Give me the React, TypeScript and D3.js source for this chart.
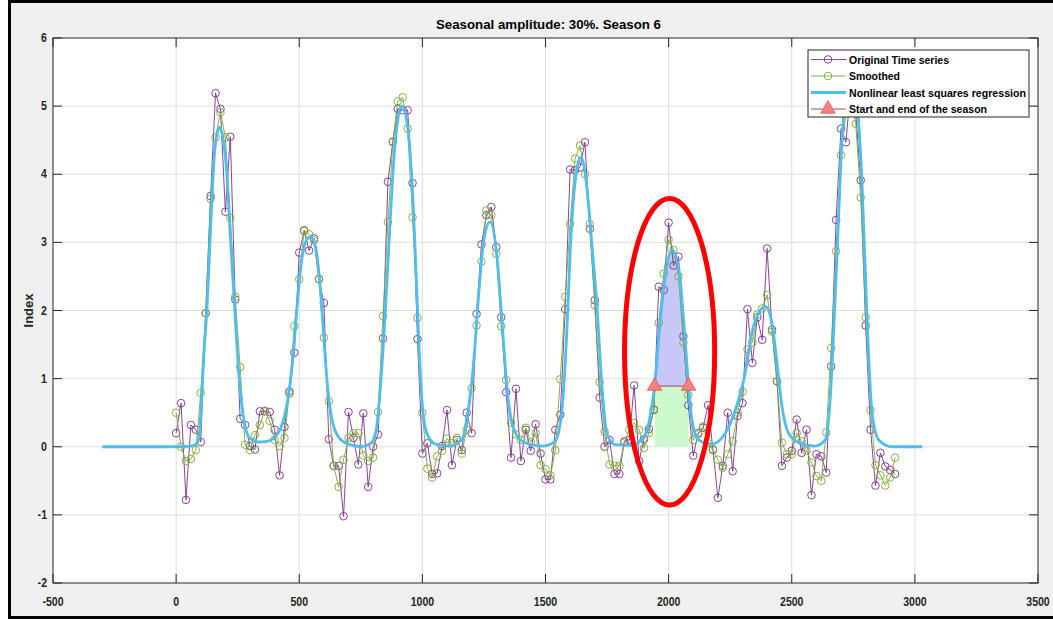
import * as d3 from 'd3';

// 16-day style composites, one every 20 units along the x axis
const STEP = 20;

const ORIGINAL = [
  0.2, 0.64, -0.78, 0.32, 0.25, 0.07, 1.96, 3.68, 5.19, 4.96,
  3.45, 4.55, 2.16, 0.41, 0.32, 0.01, -0.04, 0.52, 0.52, 0.51,
  0.25, -0.42, 0.29, 0.81, 1.38, 2.85, 3.17, 2.88, 3.06, 2.46,
  2.11, 0.11, -0.28, -0.28, -1.02, 0.51, 0.13, -0.26, 0.49, -0.59,
  0.0, 0.18, 1.59, 3.89, 4.48, 4.96, 4.94, 4.94, 3.87, 1.58,
  -0.1, 0.05, -0.4, -0.39, 0.01, 0.54, -0.27, 0.1, -0.05, 0.5,
  0.2, 1.95, 2.97, 3.4, 3.52, 2.93, 1.9, 0.8, -0.16, 0.85,
  -0.21, 0.25, -0.06, 0.33, -0.1, -0.48, -0.48, 0.25, 0.47, 2.02,
  4.07, 4.06, 4.1, 4.47, 3.2, 2.15, 0.72, 0.0, 0.1, -0.4,
  -0.4, 0.08, 0.1, 0.9, -0.21, 0.11, 0.26, 0.54, 2.35, 2.3,
  3.29, 2.66, 2.79, 1.62, 0.61, -0.13, 0.2, 0.28, 0.61, -0.04,
  -0.75, -0.28, 0.5, -0.36, 0.45, 0.64, 2.02, 1.23, 1.9, 1.57,
  2.91, 1.72, 0.96, -0.28, -0.16, -0.06, 0.4, -0.09, 0.25, -0.71,
  -0.11, -0.14, -0.38, 1.18, 3.33, 4.67, 4.47, 5.3, 4.9, 3.91,
  1.78, 0.25, -0.57, -0.09, -0.29, -0.34, -0.4,
];

const SMOOTHED = [
  0.5, 0.0, -0.21, -0.18, -0.05, 0.79, 1.96, 3.64, 4.54, 4.91,
  4.54, 3.36, 2.2, 1.17, 0.03, -0.05, 0.17, 0.32, 0.53, 0.38,
  0.1, 0.01, 0.13, 0.78, 1.77, 2.46, 3.18, 3.12, 3.03, 2.46,
  1.6, 0.67, -0.28, -0.59, -0.19, 0.13, 0.2, 0.2, -0.13, -0.21,
  -0.16, 0.51, 1.92, 3.3, 4.47, 5.07, 5.13, 4.67, 3.37, 1.89,
  0.5, -0.32, -0.45, -0.14, -0.06, 0.12, 0.05, 0.13, -0.1, 0.25,
  0.86, 1.78, 2.72, 3.47, 3.4, 2.83, 1.77, 0.98, 0.35, 0.18,
  0.1, 0.28, 0.07, 0.2, -0.27, -0.33, -0.42, -0.05, 0.99, 2.2,
  3.27, 4.23, 4.42, 4.0, 3.27, 2.08, 0.95, 0.22, -0.26, -0.28,
  -0.28, 0.06, 0.25, 0.35, 0.25, -0.02, 0.2, 0.55, 1.82, 2.54,
  3.04, 2.89, 2.5, 1.53, 0.76, 0.1, 0.18, 0.3, 0.05, -0.05,
  -0.19, -0.31, -0.11, 0.08, 0.5, 0.81, 1.43, 1.53, 1.94, 2.03,
  2.23, 1.69, 0.96, 0.06, -0.11, -0.11, 0.2, 0.08, -0.06, -0.23,
  -0.43, -0.5, 0.21, 1.45, 2.87, 4.28, 4.9, 5.1, 4.74, 3.66,
  1.9, 0.54, -0.27, -0.42, -0.57, -0.45, -0.16,
];

const DAYS = ORIGINAL.map((_, i) => i * STEP);

// fitted curve
const FIT_X = [
  -300, 0, 60, 85, 95, 104, 115, 125, 135, 145, 158, 176, 192, 206, 220, 235, 250, 264, 280, 300,
  330, 370, 410, 440, 460, 475, 490, 505, 525, 545, 565, 580, 598, 612, 628, 650, 690, 750, 790, 810,
  828, 849, 869, 889, 917, 940, 964, 975, 986, 998, 1018, 1052, 1106, 1160, 1187, 1208, 1228, 1248, 1275, 1303,
  1323, 1343, 1364, 1404, 1485, 1539, 1567, 1587, 1600, 1621, 1644, 1668, 1689, 1709, 1729, 1749, 1783, 1851, 1905, 1932,
  1943, 1966, 1986, 2013, 2040, 2061, 2081, 2095, 2122, 2176, 2230, 2284, 2311, 2338, 2365, 2392, 2420, 2440, 2460, 2487,
  2528, 2595, 2636, 2656, 2670, 2688, 2704, 2724, 2742, 2765, 2785, 2806, 2826, 2853, 2907, 3030,
];
const FIT_Y = [
  0, 0, 0.01, 0.05, 0.2, 0.75, 1.5, 2.0, 2.8, 3.6, 4.4, 4.69, 4.5, 4.0, 3.1, 2.2, 1.3, 0.7, 0.3, 0.12,
  0.07, 0.08, 0.18, 0.45, 0.85, 1.35, 2.0, 2.6, 3.0, 3.08, 2.95, 2.55, 1.7, 1.0, 0.5, 0.2, 0.05, 0.0, 0.05, 0.2,
  0.8, 1.95, 3.3, 4.45, 5.0, 4.7, 3.45, 2.5, 1.5, 0.7, 0.2, 0.04, 0.01, 0.1, 0.55, 1.23, 2.2, 3.0, 3.3, 2.79,
  1.86, 0.89, 0.35, 0.08, 0.01, 0.08, 0.55, 1.72, 2.84, 3.91, 4.25, 3.81, 2.94, 2.06, 0.89, 0.2, 0.03, 0.02, 0.18, 0.6,
  0.89, 1.86, 2.5, 2.89, 2.65, 1.86, 0.89, 0.38, 0.1, 0.04, 0.2, 0.69, 1.08, 1.67, 1.96, 2.06, 1.81, 1.23, 0.6, 0.2,
  0.06, 0.01, 0.1, 0.69, 1.67, 3.18, 4.5, 5.25, 5.45, 5.05, 3.9, 1.86, 0.5, 0.1, 0.0, 0.0,
];

const SEASON_X = [1943, 2081];
const SEASON_Y = [0.89, 0.89];

// red ellipse annotation around season 6 (data units)
const MARK_CENTER = [2004, 1.395];
const MARK_RADII = [183, 2.25];

const X_TICKS = [-500, 0, 500, 1000, 1500, 2000, 2500, 3000, 3500];
const Y_TICKS = [-2, -1, 0, 1, 2, 3, 4, 5, 6];
const LEGEND_LABELS = [
  'Original Time series',
  'Smoothed',
  'Nonlinear least squares regression',
  'Start and end of the season',
];
const LEGEND_WIDTHS = [100, 51, 177, 138];

const PURPLE = '#7e2f8e';
const GREEN = '#77ac30';
const BLUE = '#4dbeee';
const DARKRED = '#a2142f';
const TRI_FILL = '#ff8080';
const AXIS = '#262626';
const FONT = '"Liberation Sans", Arial, Helvetica, sans-serif';

const W = 1053;
const H = 620;
const L = 53, R = 1038, T = 38, B = 583;

export default function App() {
  const x = d3.scaleLinear().domain([-500, 3500]).range([L, R]);
  const y = d3.scaleLinear().domain([-2, 6]).range([B, T]);

  const seriesLine = d3.line<number>().x((_, i) => x(DAYS[i])).y((d) => y(d));
  const fitPts: [number, number][] = FIT_X.map((v, i) => [v, FIT_Y[i]]);
  const fitLine = d3.line<[number, number]>().x((d) => x(d[0])).y((d) => y(d[1])).curve(d3.curveMonotoneX);
  const seasonPts = fitPts.filter((p) => p[0] >= SEASON_X[0] && p[0] <= SEASON_X[1]);
  const seasonArea = d3.area<[number, number]>()
    .x((d) => x(d[0]))
    .y0(y(SEASON_Y[0]))
    .y1((d) => y(d[1]))
    .curve(d3.curveMonotoneX);
  const tri = d3.symbol(d3.symbolTriangle, 90)();
  const tickLen = 9;

  const legendX = 808, legendY = 50, legendW = 221, legendH = 67;
  const rowY = (i: number) => legendY + 9.5 + i * 16.5;

  return (
    <svg width={W} height={H} style={{ position: 'absolute', left: 0, top: 0 }} fontFamily={FONT}>
      <rect x={0} y={0} width={W} height={H} fill="#fff" />
      <rect x={9.5} y={1.5} width={W + 20} height={616} fill="#f0f0f0" stroke="#000" strokeWidth={3} />

      {/* plot area */}
      <rect x={L} y={T} width={R - L} height={B - T} fill="#fff" />
      <g stroke="#dedede" strokeWidth={1}>
        {X_TICKS.slice(1, -1).map((t) => (
          <line key={t} x1={x(t)} x2={x(t)} y1={T} y2={B} />
        ))}
        {Y_TICKS.slice(1, -1).map((t) => (
          <line key={t} x1={L} x2={R} y1={y(t)} y2={y(t)} />
        ))}
      </g>

      {/* season shading */}
      <rect
        x={x(SEASON_X[0])}
        y={y(SEASON_Y[0])}
        width={x(SEASON_X[1]) - x(SEASON_X[0])}
        height={y(0) - y(SEASON_Y[0])}
        fill="#ccfacc"
      />
      <path d={seasonArea(seasonPts) || ''} fill="#c8c8f8" />

      {/* original series */}
      <path d={seriesLine(ORIGINAL) || ''} fill="none" stroke={PURPLE} strokeWidth={0.9} />
      {ORIGINAL.map((v, i) => (
        <circle key={'o' + i} cx={x(DAYS[i])} cy={y(v)} r={3.8} fill="none" stroke={PURPLE} strokeWidth={0.9} />
      ))}
      {/* smoothed */}
      <path d={seriesLine(SMOOTHED) || ''} fill="none" stroke={GREEN} strokeWidth={0.9} />
      {SMOOTHED.map((v, i) => (
        <circle key={'s' + i} cx={x(DAYS[i])} cy={y(v)} r={3.8} fill="none" stroke={GREEN} strokeWidth={0.9} />
      ))}
      {/* fit */}
      <path d={fitLine(fitPts) || ''} fill="none" stroke={BLUE} strokeWidth={2.8} />

      {/* start / end of season */}
      <line
        x1={x(SEASON_X[0])} x2={x(SEASON_X[1])}
        y1={y(SEASON_Y[0])} y2={y(SEASON_Y[1])}
        stroke={DARKRED} strokeWidth={0.8}
      />
      {SEASON_X.map((v, i) => (
        <path key={'t' + i} d={tri || ''} transform={`translate(${x(v)},${y(SEASON_Y[i])})`}
          fill={TRI_FILL} stroke="#e05050" strokeWidth={0.8} />
      ))}

      <ellipse
        cx={x(MARK_CENTER[0])}
        cy={y(MARK_CENTER[1])}
        rx={x(MARK_CENTER[0] + MARK_RADII[0]) - x(MARK_CENTER[0])}
        ry={y(0) - y(MARK_RADII[1])}
        fill="none"
        stroke="#ff0000"
        strokeWidth={5}
      />

      {/* axes box + inner ticks */}
      <rect x={L} y={T} width={R - L} height={B - T} fill="none" stroke={AXIS} strokeWidth={1} />
      <g stroke={AXIS} strokeWidth={1}>
        {X_TICKS.map((t) => (
          <g key={t}>
            <line x1={x(t)} x2={x(t)} y1={B} y2={B - tickLen} />
            <line x1={x(t)} x2={x(t)} y1={T} y2={T + tickLen} />
          </g>
        ))}
        {Y_TICKS.map((t) => (
          <g key={t}>
            <line x1={L} x2={L + tickLen} y1={y(t)} y2={y(t)} />
            <line x1={R} x2={R - tickLen} y1={y(t)} y2={y(t)} />
          </g>
        ))}
      </g>
      <g fill={AXIS} fontSize={12} fontWeight="bold">
        {X_TICKS.map((t) => (
          <g key={t} transform={`translate(${x(t)},${B + 23})`}>
            <text textAnchor="middle" transform="scale(0.88,1)">{t}</text>
          </g>
        ))}
        {Y_TICKS.map((t) => (
          <g key={t} transform={`translate(${L - 6},${y(t) + 4})`}>
            <text textAnchor="end" transform="scale(0.88,1)">{t}</text>
          </g>
        ))}
      </g>
      <text
        transform={`translate(33,${(T + B) / 2}) rotate(-90)`}
        textAnchor="middle" fontSize={13} fontWeight="bold" fill={AXIS}
      >
        Index
      </text>
      <text
        x={(L + R) / 2 + 3} y={29} textAnchor="middle" fontSize={13} fontWeight="bold" fill="#000"
        textLength={225} lengthAdjust="spacingAndGlyphs"
      >
        Seasonal amplitude: 30%. Season 6
      </text>

      {/* legend */}
      <rect x={legendX} y={legendY} width={legendW} height={legendH} fill="#fff" stroke={AXIS} strokeWidth={1} />
      <g>
        <line x1={legendX + 3} x2={legendX + 38} y1={rowY(0)} y2={rowY(0)} stroke={PURPLE} strokeWidth={0.9} />
        <circle cx={legendX + 20} cy={rowY(0)} r={3.8} fill="none" stroke={PURPLE} strokeWidth={0.9} />
        <line x1={legendX + 3} x2={legendX + 38} y1={rowY(1)} y2={rowY(1)} stroke={GREEN} strokeWidth={0.9} />
        <circle cx={legendX + 20} cy={rowY(1)} r={3.8} fill="none" stroke={GREEN} strokeWidth={0.9} />
        <line x1={legendX + 3} x2={legendX + 38} y1={rowY(2)} y2={rowY(2)} stroke={BLUE} strokeWidth={2.8} />
        <line x1={legendX + 3} x2={legendX + 38} y1={rowY(3)} y2={rowY(3)} stroke={DARKRED} strokeWidth={0.8} />
        <path d={tri || ''} transform={`translate(${legendX + 20},${rowY(3)})`} fill={TRI_FILL} stroke="#e05050" strokeWidth={0.8} />
      </g>
      <g fill="#000" fontSize={11.5} fontWeight="bold">
        {LEGEND_LABELS.map((s, i) => (
          <text key={s} x={legendX + 41} y={rowY(i) + 4} textLength={LEGEND_WIDTHS[i]} lengthAdjust="spacingAndGlyphs">
            {s}
          </text>
        ))}
      </g>
    </svg>
  );
}
